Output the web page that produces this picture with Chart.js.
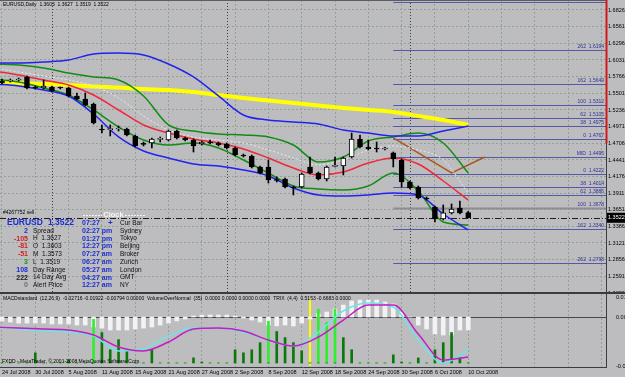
<!DOCTYPE html>
<html>
<head>
<meta charset="utf-8">
<title>EURUSD Daily</title>
<script src="https://cdn.jsdelivr.net/npm/chart.js@4.4.1/dist/chart.umd.min.js"></script>
<style>
  html, body { margin: 0; padding: 0; background: #bdbdc0; }
  #wrap { position: relative; width: 625px; height: 377px; overflow: hidden; background: #bdbdc0; }
  canvas { position: absolute; left: 0; }
  #main { top: 0; }
  #macd { top: 294px; }
</style>
</head>
<body>
<div id="wrap">
  <canvas id="main" width="625" height="294"></canvas>
  <canvas id="macd" width="625" height="83"></canvas>
</div>
<script>
// trading days shown on the chart
const julDays = [24, 25, 28, 29, 30, 31];
const augDays = [1, 4, 5, 6, 7, 8, 11, 12, 13, 14, 15, 18, 19, 20, 21, 22, 25, 26, 27, 28, 29];
const sepDays = [1, 2, 3, 4, 5, 8, 9, 10, 11, 12, 15, 16, 17, 18, 19, 22, 23, 24, 25, 26, 29, 30];
const octDays = [1, 2, 3, 6, 7, 8, 9, 10];
const dates = [
  ...julDays.map(d => d + ' Jul 2008'),
  ...augDays.map(d => d + ' Aug 2008'),
  ...sepDays.map(d => d + ' Sep 2008'),
  ...octDays.map(d => d + ' Oct 2008')
];
const monthStarts = [julDays.length, julDays.length + augDays.length, julDays.length + augDays.length + sepDays.length];

// OHLC, daily
const opens = [1.5697,1.5697,1.5713,1.5761,1.5590,1.5586,1.5602,1.5590,1.5586,1.5459,
  1.5411,1.5331,1.4925,1.4925,1.4934,1.4934,1.4823,1.4700,1.4711,1.4770,
  1.4759,1.4902,1.4791,1.4759,1.4695,1.4716,1.4711,1.4695,1.4632,1.4510,
  1.4505,1.4330,1.4330,1.4123,1.4139,1.4000,1.4012,1.4330,1.4234,1.4139,
  1.4340,1.4346,1.4489,1.4775,1.4648,1.4620,1.4616,1.4553,1.4441,1.4091,
  1.4012,1.3830,1.3694,1.3503,1.3599,1.3678,1.3603];
const highs = [1.5729,1.5729,1.5745,1.5777,1.5618,1.5713,1.5618,1.5602,1.5602,1.5506,
  1.5506,1.5347,1.4998,1.4998,1.4982,1.4950,1.4838,1.4727,1.4791,1.4807,
  1.4918,1.4918,1.4807,1.4775,1.4743,1.4759,1.4727,1.4711,1.4648,1.4537,
  1.4521,1.4346,1.4441,1.4171,1.4155,1.4028,1.4234,1.4489,1.4250,1.4346,
  1.4489,1.4489,1.4870,1.4838,1.4759,1.4727,1.4648,1.4568,1.4457,1.4107,
  1.4028,1.3853,1.3710,1.3726,1.3742,1.3789,1.3627];
const lows = [1.5649,1.5681,1.5697,1.5570,1.5570,1.5570,1.5522,1.5570,1.5443,1.5395,
  1.5300,1.5013,1.4870,1.4823,1.4902,1.4823,1.4648,1.4664,1.4632,1.4727,
  1.4743,1.4775,1.4743,1.4568,1.4679,1.4695,1.4664,1.4616,1.4505,1.4489,
  1.4314,1.4218,1.4075,1.4091,1.3996,1.3885,1.3996,1.4218,1.4123,1.4107,
  1.4330,1.4203,1.4473,1.4632,1.4600,1.4568,1.4600,1.4330,1.4012,1.3980,
  1.3821,1.3805,1.3455,1.3487,1.3583,1.3583,1.3519];
const closes = [1.5665,1.5713,1.5729,1.5586,1.5586,1.5618,1.5538,1.5586,1.5459,1.5411,
  1.5316,1.5029,1.4918,1.4934,1.4940,1.4838,1.4664,1.4690,1.4775,1.4775,
  1.4902,1.4791,1.4759,1.4664,1.4727,1.4711,1.4679,1.4632,1.4521,1.4505,
  1.4330,1.4234,1.4123,1.4115,1.4012,1.3996,1.4218,1.4234,1.4139,1.4330,
  1.4346,1.4473,1.4775,1.4648,1.4616,1.4616,1.4620,1.4457,1.4091,1.3996,
  1.3837,1.3821,1.3503,1.3599,1.3662,1.3599,1.3522];

// indicator lines, read every 3 bars
const lineIdx = [-1, 2, 5, 8, 11, 14, 17, 20, 23, 26, 29, 32, 35, 38, 41, 44, 47, 50, 53, 56];
const maSlow   = [1.5689,1.5665,1.5649,1.5634,1.5610,1.5594,1.5570,1.5554,1.5522,1.5474,1.5427,1.5387,1.5347,1.5307,1.5268,1.5236,1.5204,1.5141,1.5077,1.4998];
const bbUpper  = [1.5983,1.5983,1.5999,1.6031,1.6126,1.6142,1.6111,1.5967,1.5761,1.5459,1.5157,1.5077,1.5045,1.5013,1.4918,1.4870,1.4823,1.4823,1.4902,1.4982];
const bbLower  = [1.5649,1.5618,1.5554,1.5459,1.5172,1.4807,1.4584,1.4473,1.4377,1.4346,1.4282,1.4187,1.3996,1.3885,1.3869,1.3885,1.3916,1.3885,1.3582,1.3328];
const envUpper = [1.5967,1.5951,1.5904,1.5824,1.5761,1.5713,1.5459,1.4998,1.4902,1.4854,1.4838,1.4807,1.4679,1.4409,1.4489,1.4743,1.4807,1.4870,1.4711,1.4234];
const envLower = [1.5729,1.5681,1.5586,1.5474,1.5236,1.4966,1.4759,1.4679,1.4711,1.4632,1.4441,1.4234,1.4028,1.3980,1.3964,1.4028,1.4234,1.3948,1.3455,1.3408];
const maMid    = [1.5856,1.5793,1.5713,1.5634,1.5474,1.5236,1.4998,1.4870,1.4775,1.4711,1.4616,1.4473,1.4314,1.4203,1.4250,1.4393,1.4473,1.4377,1.4107,1.3805];
const maFast   = [1.5904,1.5840,1.5777,1.5713,1.5618,1.5427,1.5141,1.4918,1.4807,1.4759,1.4711,1.4600,1.4473,1.4362,1.4441,1.4600,1.4664,1.4600,1.4441,1.3916];
const zigIdx   = [47, 54, 58];
const zigPrice = [1.4791, 1.4234, 1.4489];

// fibonacci levels
const fibStart = 47;
const fibLevels = ['', '262', '162', '100', '62', '38', '0', 'MID', '0', '38', '62', '100', '162', '262'];
const fibPrices = [1.6953, 1.6194, 1.5649, 1.5312, 1.5105, 1.4975, 1.4767, 1.4495, 1.4222, 1.4014, 1.3886, 1.3678, 1.3340, 1.2798];
const targetPrice = 1.3678;
const orderPrice = 1.3522;
const lastPrice = 1.3522;

const priceTicks = [1.6826, 1.6561, 1.6296, 1.6031, 1.5766, 1.5501, 1.5236, 1.4971, 1.4706, 1.4441,
  1.4176, 1.3911, 1.3651, 1.3386, 1.3121, 1.2856, 1.2591, 1.2326];

// MACD window
const macdHist = [-0.0026,-0.0033,-0.0040,-0.0040,-0.0040,-0.0040,-0.0046,-0.0046,-0.0046,-0.0053,
  -0.0053,-0.0066,-0.0073,-0.0086,-0.0086,-0.0086,-0.0079,-0.0073,-0.0066,-0.0053,
  -0.0040,-0.0026,-0.0013,0.0007,0.0013,0.0013,0.0013,0.0013,0.0007,-0.0007,
  -0.0020,-0.0033,-0.0053,-0.0059,-0.0053,-0.0059,-0.0040,-0.0013,0.0020,0.0033,
  0.0053,0.0079,0.0106,0.0112,0.0112,0.0112,0.0099,0.0086,0.0033,0.0000,
  -0.0053,-0.0079,-0.0112,-0.0119,-0.0119,-0.0086,-0.0086];
const macdMain   = [-0.0066,-0.0073,-0.0079,-0.0086,-0.0119,-0.0198,-0.0224,-0.0165,-0.0079,-0.0073,-0.0092,-0.0152,-0.0191,-0.0132,-0.0020,0.0079,0.0079,-0.0112,-0.0284,-0.0264];
const macdSignal = [-0.0059,-0.0079,-0.0092,-0.0099,-0.0125,-0.0224,-0.0211,-0.0125,-0.0073,-0.0073,-0.0099,-0.0152,-0.0191,-0.0099,0.0040,0.0092,0.0066,-0.0152,-0.0304,-0.0218];
const volNormal = [0,0,0,0,10,0,0,0,3,0, 0,0,30,13,23,12,0,0,13,0, 0,0,0,5,1,0,0,0,13,10,
  13,20,0,31,25,20,12,0,0,0, 0,25,13,0,0,0,0,8,1,0, 5,0,13,20,30,5,0];
const volHigh = [0,0,0,0,0,0,0,0,0,0, 0,43,0,0,0,0,0,0,0,0, 0,0,0,0,0,0,0,0,0,0,
  0,0,41,0,0,0,0,0,53,40, 53,0,0,0,0,0,0,0,0,0, 0,0,0,0,0,0,0];
const trixCross = [37];
const macdTicks = [0.01297, 0, -0.03244];

const panelNums   = ['2', '-105', '-81', '-51', '3', '108', '222', '0'];
const panelLabels = ['Spread', 'H  1.3627', 'O  1.3603', 'M  1.3573', 'L  1.3519', 'Day Range', '14 Day Avg', 'Alert Price'];
const clockTimes  = ['07:27', '02:27 pm', '01:27 pm', '12:27 pm', '07:27 am', '06:27 am', '05:27 am', '04:27 am', '12:27 am'];
const clockCities = ['Cur Bar', 'Sydney', 'Tokyo', 'Beijing', 'Broker', 'Zurich', 'London', 'GMT', 'NY'];

// ---- look ----
const FONT = "'Liberation Sans',Arial,sans-serif";
const GRID = '#92a292';
const X_MIN = -0.24, X_MAX = 72.55;
const xTicks = [];
for (let v = 0; v <= 72; v += 4) xTicks.push(v);

Chart.defaults.font.family = FONT;
Chart.defaults.font.size = 5.5;
Chart.defaults.color = '#000';

function pts(xs, vals) { return xs.map((x, k) => ({ x: x, y: vals[k] })); }
function line(vals, color, width, extra) {
  return Object.assign({
    type: 'line', data: pts(lineIdx, vals), borderColor: color, borderWidth: width,
    pointRadius: 0, cubicInterpolationMode: 'monotone', fill: false, order: 2
  }, extra || {});
}
function text(ctx, s, x, y, color, font, align) {
  ctx.fillStyle = color;
  ctx.font = font;
  ctx.textAlign = align || 'left';
  ctx.textBaseline = 'middle';
  ctx.fillText(s, x, y);
}
function hline(ctx, x1, x2, y, color, width, dash) {
  ctx.save();
  ctx.strokeStyle = color; ctx.lineWidth = width; ctx.setLineDash(dash || []);
  ctx.beginPath(); ctx.moveTo(x1, y); ctx.lineTo(x2, y); ctx.stroke();
  ctx.restore();
}
function vline(ctx, x, y1, y2, color, width, dash) {
  ctx.save();
  ctx.strokeStyle = color; ctx.lineWidth = width; ctx.setLineDash(dash || []);
  ctx.beginPath(); ctx.moveTo(x, y1); ctx.lineTo(x, y2); ctx.stroke();
  ctx.restore();
}
// no label padding: the plot fills the canvas edge to edge
function noPad(s) { s.paddingTop = 0; s.paddingBottom = 0; s.paddingLeft = 0; s.paddingRight = 0; }

const mainDecor = {
  id: 'mainDecor',
  beforeDatasetsDraw(chart) {
    const { ctx, chartArea: a, scales: { x, y } } = chart;
    monthStarts.forEach(i => vline(ctx, Math.round(x.getPixelForValue(i)) + 0.5, a.top, a.bottom, '#3c3c44', 1, [1, 2]));
    const xs = x.getPixelForValue(fibStart);
    fibPrices.forEach((p, k) => {
      const py = Math.round(y.getPixelForValue(p)) + 0.5;
      if (p === targetPrice) hline(ctx, xs, a.right, py, '#8c8c94', 2);
      else hline(ctx, xs, a.right, py, '#5558a6', 1);
      if (fibLevels[k]) text(ctx, fibLevels[k] + '  ' + p.toFixed(4), a.right - 2, py - 3.5, '#2e3096', '5px ' + FONT, 'right');
    });
    hline(ctx, a.left, a.right, Math.round(y.getPixelForValue(orderPrice)) + 0.5, '#1c1c1c', 1, [6, 2, 1, 2]);
  },
  afterDraw(chart) {
    const { ctx, chartArea: a, scales: { y } } = chart;
    // frame
    hline(ctx, 0, a.right, 0.5, '#5c5c64', 1);
    vline(ctx, a.right + 0.5, 0, a.bottom, '#3c3c44', 1);
    vline(ctx, a.right + 0.5, 0, y.getPixelForValue(1.4706), '#d01818', 2);
    hline(ctx, 0, 625, 293, '#3a3a40', 2);
    // price box
    const py = y.getPixelForValue(lastPrice);
    ctx.fillStyle = '#000';
    ctx.fillRect(a.right + 1, py - 5, 625 - a.right - 1, 10);
    text(ctx, lastPrice.toFixed(4), a.right + 2, py, '#fff', '5.5px ' + FONT);
    // title
    text(ctx, 'EURUSD,Daily  1.3603  1.3627  1.3519  1.3522', 3, 5, '#000', '5px ' + FONT);
    // order label + clock header
    text(ctx, '#4267752 sell', 3, 213, '#000', '5px ' + FONT);
    hline(ctx, 83, 102, 215.5, '#f4f4f4', 1, [2, 1]);
    hline(ctx, 125, 146, 215.5, '#f4f4f4', 1, [2, 1]);
    text(ctx, 'Clock', 113.5, 215, '#f8f8f8', 'bold 7.5px ' + FONT, 'center');
    // info panel
    const numColors = ['#1c2ed0', '#d02020', '#d02020', '#d02020', '#10a010', '#1c2ed0', '#202020', '#707070'];
    const rowY = k => 223 + k * 7.8;
    text(ctx, 'EURUSD', 7, rowY(0), '#1c2ed0', 'bold 8.5px ' + FONT);
    text(ctx, lastPrice.toFixed(4), 48, rowY(0), '#1c2ed0', 'bold 8.5px ' + FONT);
    panelNums.forEach((s, k) => text(ctx, s, 28, rowY(k + 1), numColors[k], 'bold 7px ' + FONT, 'right'));
    panelLabels.forEach((s, k) => text(ctx, s, 33, rowY(k + 1), '#101010', '6.5px ' + FONT));
    clockTimes.forEach((s, k) => text(ctx, s, 82, rowY(k), '#1c2ed0', 'bold 7px ' + FONT));
    text(ctx, '+', 108, rowY(0), '#1c2ed0', 'bold 8px ' + FONT);
    clockCities.forEach((s, k) => text(ctx, s, 120, rowY(k), '#101010', '6.5px ' + FONT));
  }
};

const macdDecor = {
  id: 'macdDecor',
  beforeDatasetsDraw(chart) {
    const { ctx, chartArea: a, scales: { x, y, yv } } = chart;
    hline(ctx, a.left, a.right, Math.round(y.getPixelForValue(0)) + 0.5, '#46464c', 1);
    trixCross.forEach(i => vline(ctx, x.getPixelForValue(i), yv.getPixelForValue(63), a.bottom - 1, '#ffff00', 2));
  },
  afterDraw(chart) {
    const { ctx, chartArea: a } = chart;
    vline(ctx, a.right + 0.5, 0, a.bottom, '#3c3c44', 1);
    hline(ctx, 0, a.right + 1, a.bottom + 0.5, '#3c3c44', 1);
    text(ctx, 'MACDstandard  (12,26,9)  -0.02716 -0.01922 -0.00794 0.00000  VolumeOverNormal  (35)  0.0000 0.0000 0.0000 0.0000  TRIX  (4,4)  0.5153 -0.6683 0.0000',
      3, 5, '#000', '5px ' + FONT);
    text(ctx, 'FXDD - MetaTrader, \u00a9 2001-2008 MetaQuotes Software Corp.', 2, a.bottom - 5, '#000', '5px ' + FONT);
  }
};

const xBase = {
  type: 'linear', min: X_MIN, max: X_MAX, offset: false,
  afterBuildTicks: s => { s.ticks = xTicks.map(v => ({ value: v })); },
  grid: { color: GRID, drawTicks: false, offset: false },
  border: { display: false, dash: [2, 2] }
};

new Chart(document.getElementById('main'), {
  type: 'bar',
  data: {
    datasets: [
      {
        label: 'wick', data: dates.map((d, i) => ({ x: i, y: [lows[i], highs[i]] })),
        backgroundColor: '#000', barThickness: 1, grouped: false, order: 1
      },
      {
        label: 'body', data: dates.map((d, i) => ({ x: i, y: [opens[i], closes[i]] })),
        backgroundColor: c => closes[c.dataIndex] >= opens[c.dataIndex] ? '#ffffff' : '#000000',
        borderColor: '#000', borderWidth: 1, borderSkipped: false, minBarLength: 1,
        barThickness: 5, grouped: false, order: 0
      },
      line(bbUpper, '#2222ee', 1.5),
      line(bbLower, '#2222ee', 1.5),
      line(envUpper, '#128c12', 1.5),
      line(envLower, '#128c12', 1.5),
      line(maMid, '#f0283c', 1.5),
      line(maFast, '#e8e8ea', 1, { borderDash: [2, 2] }),
      line(maSlow, '#ffff00', 4, { order: 3 }),
      { type: 'line', data: pts(zigIdx, zigPrice), borderColor: '#a8581e', borderWidth: 1.5, pointRadius: 0, tension: 0, order: 2 }
    ]
  },
  options: {
    responsive: false, animation: false, events: [],
    layout: { padding: 0 },
    plugins: { legend: { display: false }, tooltip: { enabled: false } },
    scales: {
      x: Object.assign({}, xBase, { ticks: { display: false }, afterFit: s => { s.height = 0; noPad(s); } }),
      y: {
        position: 'right', min: 1.2310, max: 1.6985,
        afterBuildTicks: s => { s.ticks = priceTicks.map(v => ({ value: v })); },
        afterFit: s => { s.width = 19; noPad(s); },
        ticks: { autoSkip: false, padding: 2, callback: v => v.toFixed(4) },
        grid: { color: GRID, drawTicks: false },
        border: { display: false, dash: [2, 2] }
      }
    }
  },
  plugins: [mainDecor]
});

new Chart(document.getElementById('macd'), {
  type: 'bar',
  data: {
    datasets: [
      { label: 'hist', data: macdHist.map((v, i) => ({ x: i, y: v })), backgroundColor: '#f2f2f4', barThickness: 4, grouped: false, yAxisID: 'y', order: 3 },
      { label: 'vol', data: volNormal.map((v, i) => ({ x: i, y: v })), backgroundColor: '#0c780c', barThickness: 2, grouped: false, yAxisID: 'yv', order: 2 },
      { label: 'volHigh', data: volHigh.map((v, i) => ({ x: i, y: v })), backgroundColor: '#2ef02e', barThickness: 2, grouped: false, yAxisID: 'yv', order: 2 },
      line(macdSignal, '#6ae6e6', 1.5, { yAxisID: 'y', order: 1 }),
      line(macdMain, '#c21cc2', 1.5, { yAxisID: 'y', order: 0 })
    ]
  },
  options: {
    responsive: false, animation: false, events: [],
    layout: { padding: 0 },
    plugins: { legend: { display: false }, tooltip: { enabled: false } },
    scales: {
      x: Object.assign({}, xBase, {
        afterFit: s => { s.height = 10; noPad(s); },
        ticks: { autoSkip: false, align: 'start', padding: 2, maxRotation: 0, callback: v => dates[v] || '' }
      }),
      y: {
        position: 'right', min: -0.0330, max: 0.0152,
        afterBuildTicks: s => { s.ticks = macdTicks.map(v => ({ value: v })); },
        afterFit: s => { s.width = 19; noPad(s); },
        ticks: { autoSkip: false, padding: 2, callback: v => v === 0 ? '0.00' : v.toFixed(5) },
        grid: { display: false },
        border: { display: false }
      },
      yv: { display: false, min: -4, max: 68 }
    }
  },
  plugins: [macdDecor]
});
</script>
</body>
</html>
